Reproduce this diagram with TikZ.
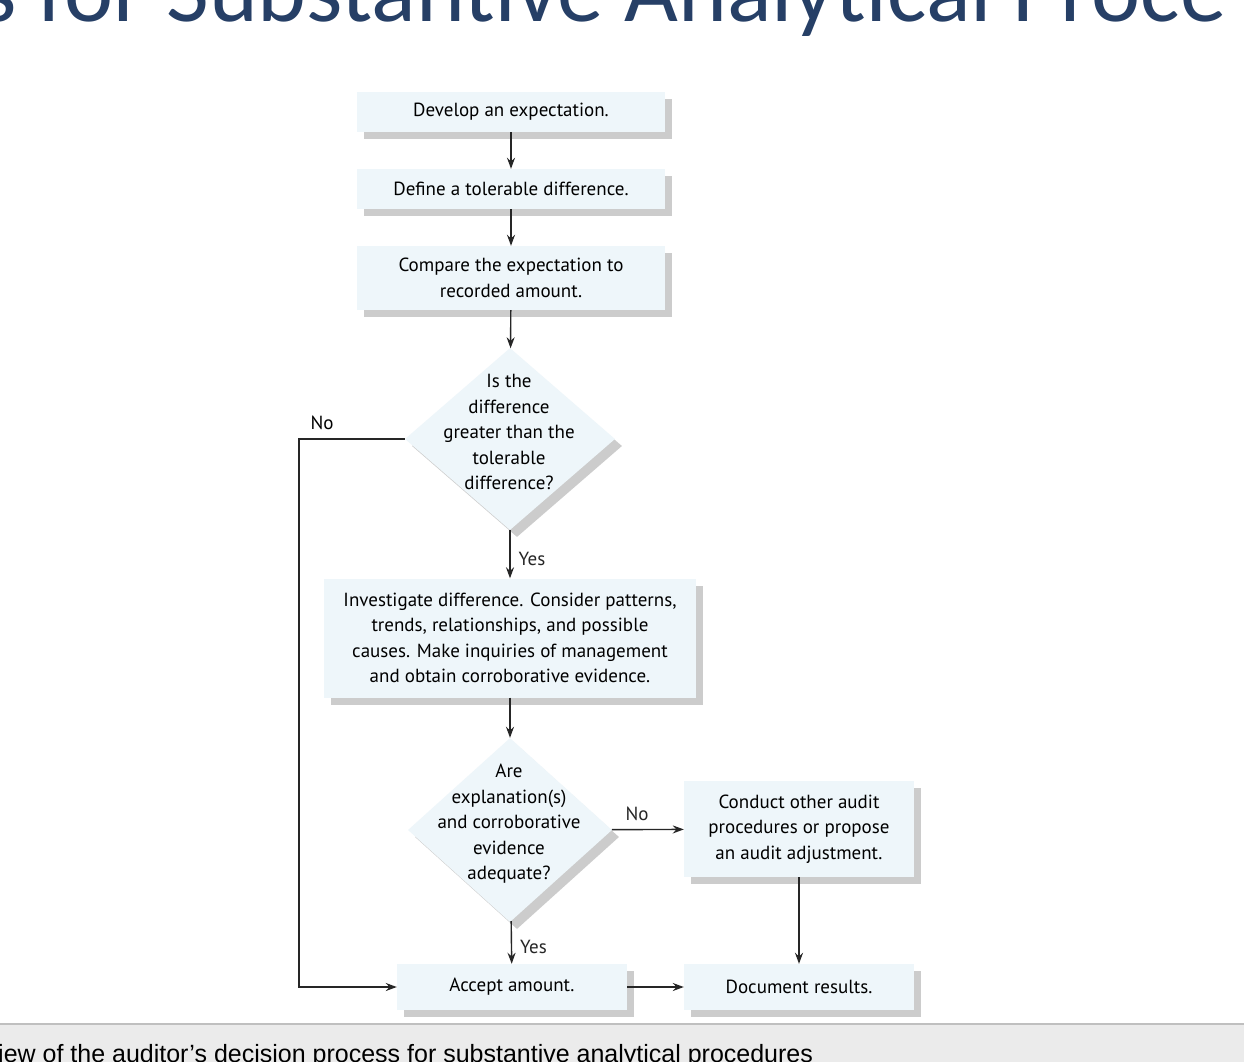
\documentclass[tikz,border=0pt]{standalone}
\usepackage{fontspec}
\setmainfont{PT Sans}
\newfontfamily\titlefont{Carlito}
\newfontfamily\capfont{Liberation Sans}
\usetikzlibrary{shapes.geometric,shadows,arrows.meta}
\definecolor{boxfill}{HTML}{EEF6FA}
\definecolor{navy}{HTML}{263F66}
\begin{document}
\begin{tikzpicture}[x=1pt,y=-1pt,
  box/.style={draw=none,fill=boxfill,inner sep=0pt,align=center,
    font=\fontsize{19}{25.5}\selectfont,
    drop shadow={shadow xshift=7pt,shadow yshift=-7pt,fill=black!22,opacity=0.9}},
  dia/.style={shape=diamond,draw=none,fill=boxfill,inner sep=0pt,
    drop shadow={shadow xshift=7pt,shadow yshift=-7pt,fill=black!22,opacity=0.9}},
  dtext/.style={align=center,font=\fontsize{19}{25.5}\selectfont,inner sep=0pt},
  lab/.style={font=\fontsize{19}{20}\selectfont,inner sep=0pt},
  arr/.style={-{Stealth[length=11pt,width=8pt]},line width=1.4pt,black!85}]
\useasboundingbox (0,0) rectangle (1244,1062);
\clip (0,0) rectangle (1244,1062);
\fill[white] (0,0) rectangle (1244,1062);
\node[anchor=base west,text=navy,inner sep=0pt,font=\titlefont\fontsize{93}{93}\selectfont] (title) at (-20,22) {s for Substantive Analytical Proce};
\fill[black!8] (0,1024) rectangle (1244,1062);
\draw[black!25,line width=1.5pt] (0,1024) -- (1244,1024);
\node[anchor=base west,inner sep=0pt,font=\capfont\fontsize{25}{25}\selectfont] (cap) at (-2,1062) {iew of the auditor’s decision process for substantive analytical procedures};

\node[box,minimum width=308,minimum height=40] (b1) at (511,112) {Develop an expectation.};
\node[box,minimum width=308,minimum height=40] (b2) at (511,189) {Define a tolerable difference.};
\node[box,minimum width=308,minimum height=64] (b3) at (511,278) {Compare the expectation to\\recorded amount.};
\node[dia,minimum width=210,minimum height=182] (d1) at (510,439) {};
\node[dtext] (d1t) at (509,432) {Is the\\difference\\greater than the\\tolerable\\difference?};
\node[box,minimum width=372,minimum height=119] (b4) at (510,638) {Investigate difference. Consider patterns,\\trends, relationships, and possible\\causes. Make inquiries of management\\and obtain corroborative evidence.};
\node[dia,minimum width=204,minimum height=184] (d2) at (510,830) {};
\node[dtext] (d2t) at (509,824) {Are\\explanation(s)\\and corroborative\\evidence\\adequate?};
\node[box,minimum width=230,minimum height=96] (b5) at (799,829) {Conduct other audit\\procedures or propose\\an audit adjustment.};
\node[box,minimum width=230,minimum height=46] (b6) at (512,987) {Accept amount.};
\node[box,minimum width=230,minimum height=46] (b7) at (799,987) {Document results.};

\draw[arr] (b1) -- (b2);
\draw[arr] (b2) -- (b3);
\draw[arr] (b3) -- (d1);
\draw[arr] (d1) -- node[lab,right=8pt,pos=0.6] (y1) {Yes} (b4);
\draw[arr] (b4) -- (d2);
\draw[arr] (d2) -- node[lab,right=8pt,pos=0.6] (y2) {Yes} (b6);
\draw[arr] (d2) -- node[lab,above=8pt,pos=0.35] (n2) {No} (b5);
\draw[arr] (b5) -- (b7);
\draw[arr] (b6) -- (b7);
\coordinate (c1) at (299,439);
\coordinate (c2) at (299,987);
\draw[arr] (d1.west) -- (c1) -- (c2) -- (b6.west);
\node[lab] (n1) at (322,423) {No};
\end{tikzpicture}
\end{document}
